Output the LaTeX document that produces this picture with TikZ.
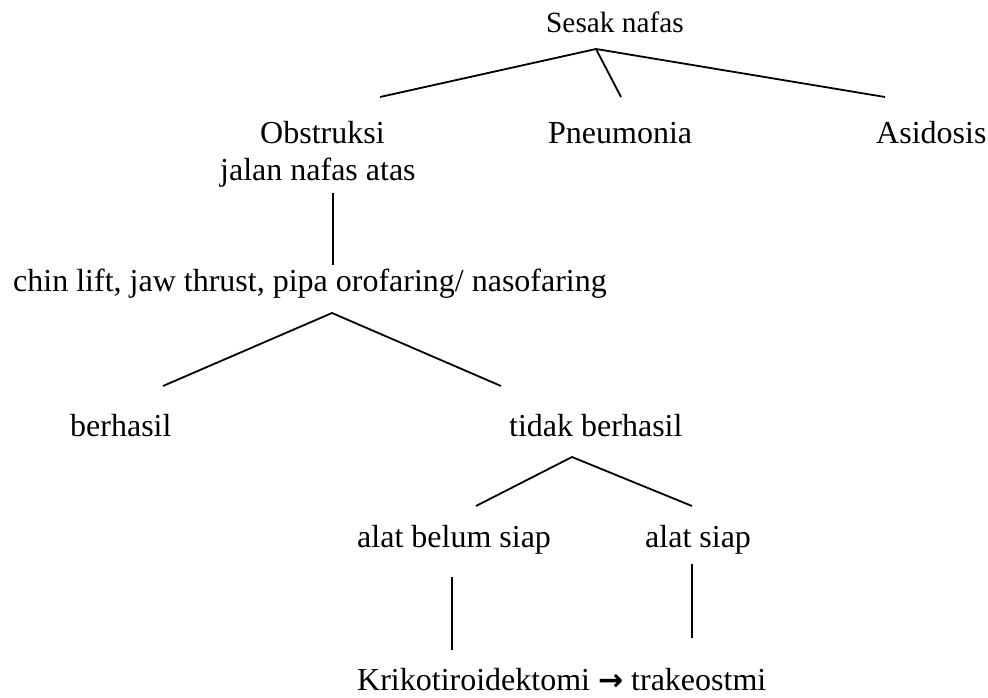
\documentclass[tikz,border=0pt]{standalone}
\usepackage{fontspec}
\setmainfont{Liberation Serif}
\newfontfamily\arrowfont{DejaVu Sans}
\begin{document}
\begin{tikzpicture}[x=1pt,y=-1pt,
  lbl/.style={anchor=base west,inner sep=0pt,font=\fontsize{32}{37}\selectfont},
  toplbl/.style={anchor=base west,inner sep=0pt,font=\fontsize{29.3}{34}\selectfont},
  conn/.style={line width=1.8pt}]
\useasboundingbox (0,0) rectangle (988,698);
% texts
\node[toplbl] (sesak) at (546,33) {Sesak nafas};
\node[lbl] (obs) at (260,143) {Obstruksi};
\node[lbl] (obsb) at (220,180) {jalan nafas atas};
\node[lbl] (pneu) at (548,143) {Pneumonia};
\node[lbl] (asid) at (876,143) {Asidosis};
\node[lbl] (chin) at (13,291) {chin lift, jaw thrust, pipa orofaring/ nasofaring};
\node[lbl] (ber) at (70,436) {berhasil};
\node[lbl] (tidak) at (509,436) {tidak berhasil};
\node[lbl] (belum) at (357,547) {alat belum siap};
\node[lbl] (siap) at (645,547) {alat siap};
\node[lbl] (krik) at (357,690) {Krikotiroidektomi {\arrowfont\bfseries\fontsize{30}{34}\selectfont →} trakeostmi};
% connector end points
\coordinate (a1) at (596,49);
\coordinate (a1l) at (380,97);
\coordinate (a1m) at (621,97);
\coordinate (a1r) at (885,97);
\coordinate (v1t) at (333,193);
\coordinate (v1b) at (333,265);
\coordinate (a2) at (332,313);
\coordinate (a2l) at (163,386);
\coordinate (a2r) at (501,386);
\coordinate (a3) at (572,457);
\coordinate (a3l) at (476,506);
\coordinate (a3r) at (692,506);
\coordinate (v2t) at (452,577);
\coordinate (v2b) at (452,650);
\coordinate (v3t) at (692,564);
\coordinate (v3b) at (692,638);
% connectors
\draw[conn] (a1l) -- (a1) -- (a1r);
\draw[conn] (a1) -- (a1m);
\draw[conn] (v1t) -- (v1b);
\draw[conn] (a2l) -- (a2) -- (a2r);
\draw[conn] (a3l) -- (a3) -- (a3r);
\draw[conn] (v2t) -- (v2b);
\draw[conn] (v3t) -- (v3b);
\end{tikzpicture}
\end{document}
